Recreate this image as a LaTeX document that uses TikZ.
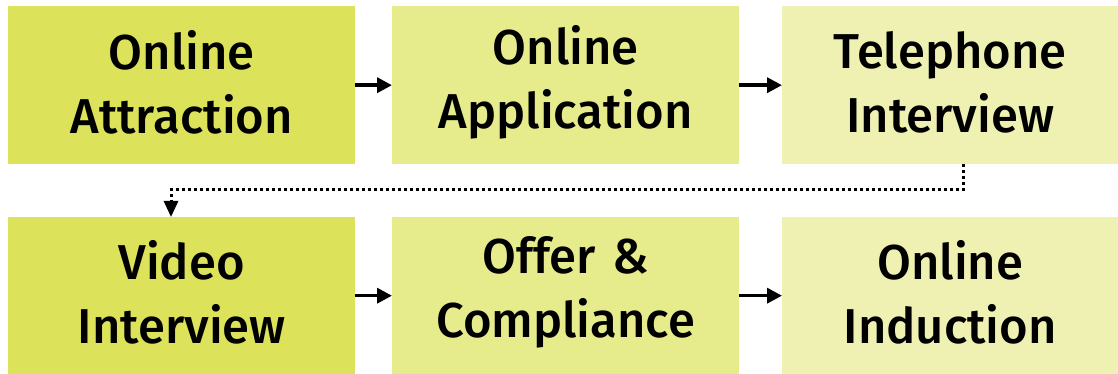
\documentclass[tikz,border=0pt]{standalone}
\usepackage{fontspec}
\setmainfont{Fira Sans}[UprightFont={* Medium}]
\usetikzlibrary{arrows.meta}
\definecolor{stepA}{RGB}{220,226,90}
\definecolor{stepB}{RGB}{230,235,140}
\definecolor{stepC}{RGB}{238,241,178}
\tikzset{
  stepbox/.style={anchor=north west, inner sep=0pt, minimum height=158pt,
    text width=340pt, align=center,
    font=\fontsize{49}{64}\selectfont,
    execute at end node={\par\vspace{6pt}}},
  flow/.style={line width=3.5pt, -{Triangle[length=15pt,width=15pt]}},
  jump/.style={line width=3pt, dash pattern=on 3pt off 3pt,
    -{Triangle[length=16pt,width=14pt]}}
}
\begin{document}
\begin{tikzpicture}[x=1pt,y=1pt]
\useasboundingbox (0,0) rectangle (1118,374);
% first row
\node[stepbox, fill=stepA, minimum width=347pt] (b1) at (8,368) {Online\\Attraction};
\node[stepbox, fill=stepB, minimum width=347pt] (b2) at (392,368) {Online\\Application};
\node[stepbox, fill=stepC, minimum width=336pt, text width=330pt] (b3) at (782,368) {Telephone\\Interview};
% second row
\node[stepbox, fill=stepA, minimum width=347pt, minimum height=157pt] (b4) at (8,157) {Video\\Interview};
\node[stepbox, fill=stepB, minimum width=347pt, minimum height=157pt] (b5) at (392,157) {Offer \&\\Compliance};
\node[stepbox, fill=stepC, minimum width=336pt, minimum height=157pt, text width=330pt] (b6) at (782,157) {Online\\Induction};
% connectors
\draw[flow] (b1.east) -- (b2.west);
\draw[flow] (b2.east) -- (b3.west);
\draw[flow] (b4.east) -- (b5.west);
\draw[flow] (b5.east) -- (b6.west);
\coordinate (turn) at (0,184);
\draw[jump] (b3.south west -| 963,0) |- (turn -| 171,0) -- (b4.north west -| 171,0);
\end{tikzpicture}
\end{document}
